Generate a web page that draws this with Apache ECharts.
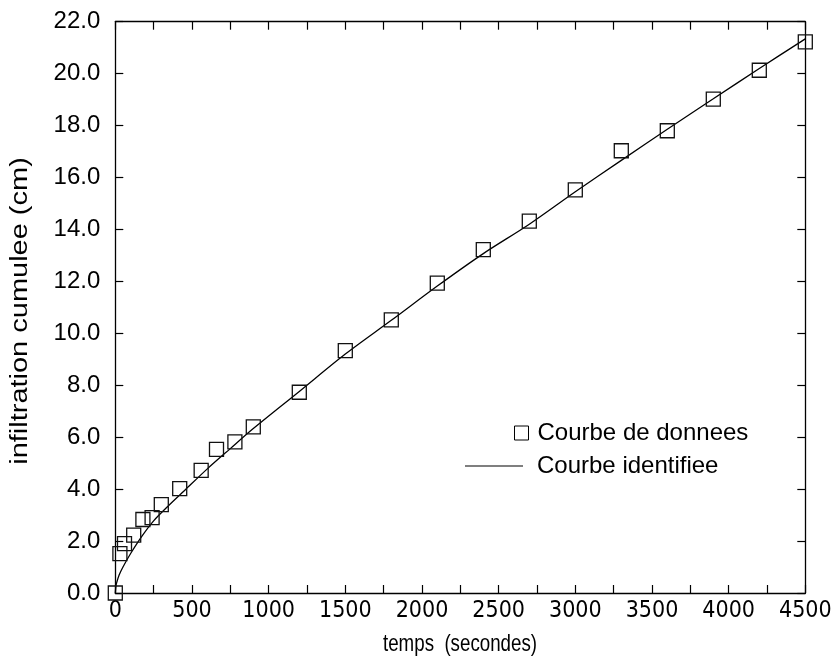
<!DOCTYPE html>
<html>
<head>
<meta charset="utf-8">
<script src="https://cdn.jsdelivr.net/npm/echarts@6/dist/echarts.min.js"></script>
<style>
html,body{margin:0;padding:0;background:#fff;}
#chart{width:835px;height:656px;}
</style>
</head>
<body>
<div id="chart"></div>
<script>
// Measured data (time in s, cumulative infiltration in cm)
const dataTimes = [0, 30, 60, 120, 180, 240, 300, 420, 560, 660, 780, 900, 1200, 1500, 1800, 2100, 2400, 2700, 3000, 3300, 3600, 3900, 4200, 4500];
const dataValues = [0.0, 1.52, 1.9, 2.23, 2.83, 2.9, 3.4, 4.02, 4.72, 5.53, 5.82, 6.4, 7.73, 9.33, 10.52, 11.93, 13.22, 14.32, 15.52, 17.03, 17.8, 19.02, 20.13, 21.22];

// Identified curve
const curveTimes = [0, 5, 10, 25, 50, 100, 175, 250, 350, 450, 600, 750, 900, 1200, 1500, 1800, 2100, 2400, 2700, 3000, 3300, 3600, 3900, 4200, 4500];
const curveValues = [0, 0.3, 0.42, 0.69, 1.0, 1.52, 2.2, 2.78, 3.38, 3.94, 4.78, 5.56, 6.33, 7.76, 9.2, 10.5, 11.82, 13.07, 14.2, 15.45, 16.66, 17.86, 19.03, 20.2, 21.34];

const xTickLabels = ['0','500','1000','1500','2000','2500','3000','3500','4000','4500'];
const yTickLabels = ['0.0','2.0','4.0','6.0','8.0','10.0','12.0','14.0','16.0','18.0','20.0','22.0'];

const FONT = 'Liberation Sans, Arial, Helvetica, sans-serif';
const NARROW = '"Liberation Sans Narrow", "Arial Narrow", "DejaVu Sans Condensed", sans-serif';
const chart = echarts.init(document.getElementById('chart'), null, {renderer: 'canvas'});

const axisLineStyle = {color: '#000', width: 1.3};
const tickStyle = {color: '#000', width: 1.2};

const option = {
  backgroundColor: '#fff',
  animation: false,
  grid: {left: 115.3, right: 29.7, top: 21.7, bottom: 63, containLabel: false, outerBoundsMode: 'none'},
  graphic: [
    {
      type: 'text',
      x: 21, y: 311,
      rotation: Math.PI / 2,
      scaleX: 1.26,
      style: {
        text: 'infiltration cumulee (cm)',
        font: '23px ' + FONT,
        fill: '#000',
        textAlign: 'center',
        textVerticalAlign: 'middle'
      }
    },
    {
      type: 'text',
      x: 460, y: 644,
      scaleX: 0.78,
      style: {
        text: 'temps  (secondes)',
        font: '24px ' + FONT,
        fill: '#000',
        textAlign: 'center',
        textVerticalAlign: 'middle'
      }
    }
  ],
  legend: [
    {
      data: [{name: 'Courbe de donnees', icon: 'rect'}],
      left: 514, top: 421, padding: 0,
      itemWidth: 14, itemHeight: 14, itemGap: 0,
      textStyle: {fontFamily: FONT, fontSize: 24, color: '#000', padding: [0,0,0,4]},
      itemStyle: {color: 'rgba(0,0,0,0)', borderColor: '#000', borderWidth: 1}
    },
    {
      data: [{name: 'Courbe identifiee'}],
      left: 465, top: 454, padding: 0,
      itemWidth: 58, itemHeight: 14, itemGap: 0,
      icon: 'path://M0,7 L58,7 L58,8 L0,8 Z',
      textStyle: {fontFamily: FONT, fontSize: 24, color: '#000', padding: [0,0,0,9]},
      itemStyle: {color: '#000'}
    }
  ],
  xAxis: [
    {
      type: 'value', min: 0, max: 4500, interval: 500, position: 'bottom',
      axisLine: {show: true, onZero: false, lineStyle: axisLineStyle},
      axisTick: {show: true, inside: true, length: 8, lineStyle: tickStyle},
      minorTick: {show: true, splitNumber: 2, length: 8, lineStyle: tickStyle},
      axisLabel: {fontFamily: NARROW, fontSize: 23, color: '#000', margin: 7,
        formatter: function (v) { const i = Math.round(v / 500); return xTickLabels[i] !== undefined ? xTickLabels[i] : ''; }},
      splitLine: {show: false}
    },
    {
      type: 'value', min: 0, max: 4500, interval: 250, position: 'top',
      axisLine: {show: true, onZero: false, lineStyle: axisLineStyle},
      axisTick: {show: true, inside: true, length: 8, lineStyle: tickStyle},
      axisLabel: {show: false},
      splitLine: {show: false}
    }
  ],
  yAxis: [
    {
      type: 'value', min: 0, max: 22, interval: 2, position: 'left',
      axisLine: {show: true, onZero: false, lineStyle: axisLineStyle},
      axisTick: {show: true, inside: true, length: 8, lineStyle: tickStyle},
      axisLabel: {fontFamily: FONT, fontSize: 24, color: '#000', margin: 15,
        formatter: function (v) { const i = Math.round(v / 2); return yTickLabels[i] !== undefined ? yTickLabels[i] : ''; }},
      splitLine: {show: false}
    },
    {
      type: 'value', min: 0, max: 22, interval: 2, position: 'right',
      axisLine: {show: true, onZero: false, lineStyle: axisLineStyle},
      axisTick: {show: true, inside: true, length: 8, lineStyle: tickStyle},
      axisLabel: {show: false},
      splitLine: {show: false}
    }
  ],
  series: [
    {
      name: 'Courbe identifiee',
      type: 'line',
      xAxisIndex: 0, yAxisIndex: 0,
      data: curveTimes.map((t, i) => [t, curveValues[i]]),
      smooth: 0.3,
      showSymbol: false,
      symbol: 'none',
      lineStyle: {color: '#000', width: 1.3},
      itemStyle: {color: '#000'},
      z: 2
    },
    {
      name: 'Courbe de donnees',
      type: 'scatter',
      xAxisIndex: 0, yAxisIndex: 0,
      data: dataTimes.map((t, i) => [t, dataValues[i]]),
      symbol: 'rect',
      symbolSize: 14,
      itemStyle: {color: 'rgba(0,0,0,0)', borderColor: '#111', borderWidth: 1.3, opacity: 1},
      clip: false,
      z: 3
    }
  ]
};
chart.setOption(option);
</script>
</body>
</html>
